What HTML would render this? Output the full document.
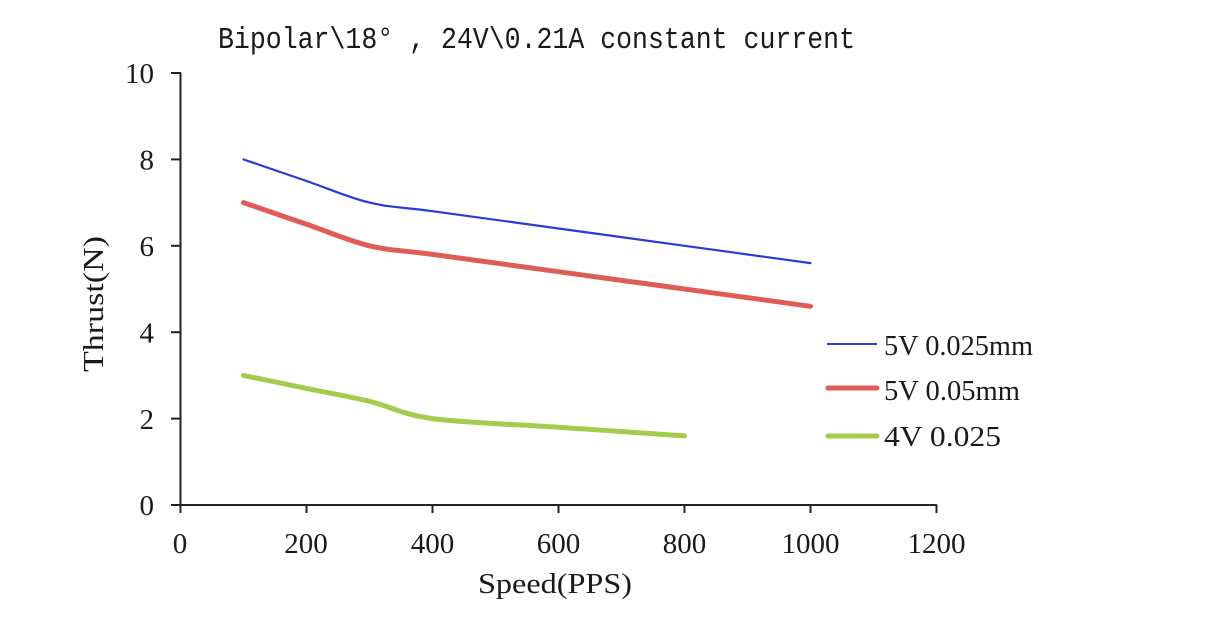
<!DOCTYPE html>
<html>
<head>
<meta charset="utf-8">
<style>
  html, body { margin: 0; padding: 0; background: #ffffff; }
  svg { display: block; }
  text { fill: #1a1a1a; }
</style>
</head>
<body>
<svg width="1218" height="628" viewBox="0 0 1218 628" xmlns="http://www.w3.org/2000/svg">
  <rect width="1218" height="628" fill="#ffffff"/>

  <!-- Title -->
  <text x="218" y="48" font-family="'Liberation Mono', monospace" font-size="31" textLength="637" lengthAdjust="spacingAndGlyphs">Bipolar\18° , 24V\0.21A constant current</text>

  <!-- Axes -->
  <g stroke="#222222" stroke-width="2" fill="none">
    <line x1="180.5" y1="73" x2="180.5" y2="506"/>
    <line x1="171" y1="505" x2="937" y2="505"/>
    <!-- y ticks -->
    <line x1="171" y1="73" x2="181" y2="73"/>
    <line x1="171" y1="159.4" x2="181" y2="159.4"/>
    <line x1="171" y1="245.8" x2="181" y2="245.8"/>
    <line x1="171" y1="332.2" x2="181" y2="332.2"/>
    <line x1="171" y1="418.6" x2="181" y2="418.6"/>
    <!-- x ticks -->
    <line x1="180.5" y1="505" x2="180.5" y2="513"/>
    <line x1="306.5" y1="505" x2="306.5" y2="513"/>
    <line x1="432.5" y1="505" x2="432.5" y2="513"/>
    <line x1="558.5" y1="505" x2="558.5" y2="513"/>
    <line x1="684.5" y1="505" x2="684.5" y2="513"/>
    <line x1="810.5" y1="505" x2="810.5" y2="513"/>
    <line x1="936.5" y1="505" x2="936.5" y2="513"/>
  </g>

  <!-- Y tick labels -->
  <g font-family="'Liberation Serif', serif" font-size="29" text-anchor="end">
    <text x="154" y="83">10</text>
    <text x="154" y="169.5">8</text>
    <text x="154" y="256">6</text>
    <text x="154" y="342.5">4</text>
    <text x="154" y="429">2</text>
    <text x="154" y="515">0</text>
  </g>

  <!-- X tick labels -->
  <g font-family="'Liberation Serif', serif" font-size="29" text-anchor="middle">
    <text x="180" y="553">0</text>
    <text x="306" y="553">200</text>
    <text x="432.5" y="553">400</text>
    <text x="558.5" y="553">600</text>
    <text x="684.5" y="553">800</text>
    <text x="810.5" y="553">1000</text>
    <text x="936.5" y="553">1200</text>
  </g>

  <!-- Axis titles -->
  <text x="478" y="593" font-family="'Liberation Serif', serif" font-size="28" textLength="154" lengthAdjust="spacingAndGlyphs">Speed(PPS)</text>
  <text transform="translate(103,372) rotate(-90)" x="0" y="0" font-family="'Liberation Serif', serif" font-size="28" textLength="136" lengthAdjust="spacingAndGlyphs">Thrust(N)</text>

  <!-- Series: green -->
  <path d="M243.5,375.4 C254,377.6 285.5,384.1 306.5,388.4 C327.5,392.7 348.5,396.3 369.5,401.3 C390.5,406.3 401,414.3 432.5,418.6 C464,422.9 516.5,424.3 558.5,427.2 C600.5,430.1 663.5,434.5 684.5,435.9"
        fill="none" stroke="#a4cc4c" stroke-width="5" stroke-linecap="round" stroke-linejoin="round"/>

  <!-- Series: red -->
  <path d="M243.5,202.6 C254,206.2 285.5,217.0 306.5,224.2 C327.5,231.4 348.5,240.8 369.5,245.8 C390.5,250.8 401,250.1 432.5,254.4 C464,258.7 516.5,265.9 558.5,271.7 C600.5,277.5 642.5,283.2 684.5,289.0 C726.5,294.8 789.5,303.4 810.5,306.3"
        fill="none" stroke="#e05c57" stroke-width="5" stroke-linecap="round" stroke-linejoin="round"/>

  <!-- Series: blue -->
  <path d="M243.5,159.4 C254,163.0 285.5,173.8 306.5,181.0 C327.5,188.2 348.5,197.6 369.5,202.6 C390.5,207.6 401,206.9 432.5,211.2 C464,215.5 516.5,222.7 558.5,228.5 C600.5,234.3 642.5,240.0 684.5,245.8 C726.5,251.6 789.5,260.2 810.5,263.1"
        fill="none" stroke="#2a3bd8" stroke-width="2.2" stroke-linecap="round" stroke-linejoin="round"/>

  <!-- Legend -->
  <line x1="827" y1="344" x2="877" y2="344" stroke="#2a3bd8" stroke-width="2"/>
  <line x1="828" y1="388" x2="877" y2="388" stroke="#e05c57" stroke-width="5" stroke-linecap="round"/>
  <line x1="828" y1="436" x2="877" y2="436" stroke="#a4cc4c" stroke-width="5" stroke-linecap="round"/>
  <g font-family="'Liberation Serif', serif" font-size="29">
    <text x="884" y="355" textLength="149" lengthAdjust="spacingAndGlyphs">5V 0.025mm</text>
    <text x="884" y="400" textLength="136" lengthAdjust="spacingAndGlyphs">5V 0.05mm</text>
    <text x="884" y="446" textLength="117" lengthAdjust="spacingAndGlyphs">4V 0.025</text>
  </g>
</svg>
</body>
</html>
